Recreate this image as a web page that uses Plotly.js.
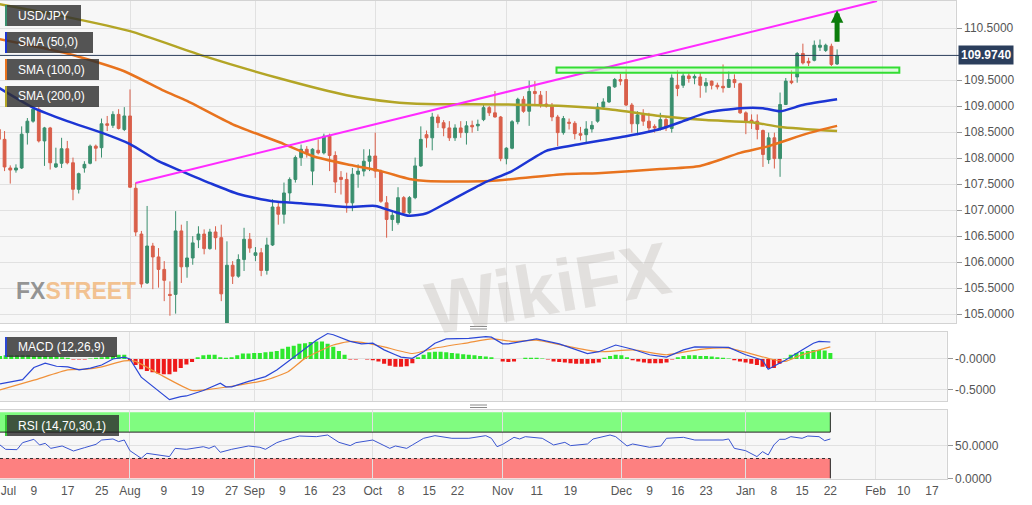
<!DOCTYPE html>
<html><head><meta charset="utf-8">
<script src="https://cdn.plot.ly/plotly-3.0.1.min.js"></script>
<style>html,body{margin:0;padding:0;background:#fff}#chart{width:1032px;height:505px}</style>
</head><body><div id="chart"></div>
<script>
// ---------- DATA ----------
const dates = ['2019-07-01','2019-07-02','2019-07-03','2019-07-04','2019-07-05','2019-07-08','2019-07-09','2019-07-10','2019-07-11','2019-07-12','2019-07-15','2019-07-16','2019-07-17','2019-07-18','2019-07-19','2019-07-22','2019-07-23','2019-07-24','2019-07-25','2019-07-26','2019-07-29','2019-07-30','2019-07-31',
'2019-08-01','2019-08-02','2019-08-05','2019-08-06','2019-08-07','2019-08-08','2019-08-09','2019-08-12','2019-08-13','2019-08-14','2019-08-15','2019-08-16','2019-08-19','2019-08-20','2019-08-21','2019-08-22','2019-08-23','2019-08-26','2019-08-27','2019-08-28','2019-08-29','2019-08-30',
'2019-09-02','2019-09-03','2019-09-04','2019-09-05','2019-09-06','2019-09-09','2019-09-10','2019-09-11','2019-09-12','2019-09-13','2019-09-16','2019-09-17','2019-09-18','2019-09-19','2019-09-20','2019-09-23','2019-09-24','2019-09-25','2019-09-26','2019-09-27','2019-09-30',
'2019-10-01','2019-10-02','2019-10-03','2019-10-04','2019-10-07','2019-10-08','2019-10-09','2019-10-10','2019-10-11','2019-10-14','2019-10-15','2019-10-16','2019-10-17','2019-10-18','2019-10-21','2019-10-22','2019-10-23','2019-10-24','2019-10-25','2019-10-28','2019-10-29','2019-10-30','2019-10-31',
'2019-11-01','2019-11-04','2019-11-05','2019-11-06','2019-11-07','2019-11-08','2019-11-11','2019-11-12','2019-11-13','2019-11-14','2019-11-15','2019-11-18','2019-11-19','2019-11-20','2019-11-21','2019-11-22','2019-11-25','2019-11-26','2019-11-27','2019-11-28','2019-11-29',
'2019-12-02','2019-12-03','2019-12-04','2019-12-05','2019-12-06','2019-12-09','2019-12-10','2019-12-11','2019-12-12','2019-12-13','2019-12-16','2019-12-17','2019-12-18','2019-12-19','2019-12-20','2019-12-23','2019-12-24','2019-12-25','2019-12-26','2019-12-27','2019-12-30','2019-12-31',
'2020-01-01','2020-01-02','2020-01-03','2020-01-06','2020-01-07','2020-01-08','2020-01-09','2020-01-10','2020-01-13','2020-01-14','2020-01-15','2020-01-16','2020-01-17','2020-01-20','2020-01-21','2020-01-22'];

const open = [108.55,108.36,107.81,107.77,107.81,108.49,108.71,108.94,108.33,108.58,107.83,107.90,108.18,107.91,107.40,107.81,107.90,108.23,108.20,108.66,108.63,108.84,108.55,
108.81,107.42,106.54,105.60,106.31,106.10,105.86,105.38,105.38,106.60,105.91,106.08,106.43,106.54,106.26,106.58,106.47,104.83,105.94,105.73,106.05,106.44,
106.13,106.18,105.84,106.33,107.06,106.92,107.33,107.59,108.01,108.17,107.75,108.15,108.10,108.42,108.05,107.63,107.59,107.14,107.69,107.75,107.94,
108.04,107.75,107.14,106.82,106.76,107.24,106.95,107.24,107.85,108.45,108.39,108.79,108.68,108.58,108.39,108.58,108.49,108.63,108.62,108.74,108.97,108.87,108.79,
107.99,108.19,108.70,109.13,108.90,109.28,109.21,109.04,109.00,108.79,108.49,108.69,108.67,108.47,108.45,108.56,108.71,108.98,109.08,109.37,109.51,
109.51,109.02,108.66,108.83,108.71,108.61,108.57,108.74,108.57,109.40,109.40,109.58,109.54,109.56,109.39,109.48,109.40,109.38,109.36,109.51,109.43,108.87,
108.73,108.71,108.53,107.97,108.39,107.99,109.03,109.48,109.56,110.01,109.86,109.88,110.13,110.07,110.15,109.81];
const high = [108.65,108.52,107.86,107.88,108.61,108.77,108.98,108.98,108.60,108.60,108.20,108.39,108.33,108.01,107.72,107.94,108.26,108.26,108.76,108.81,108.90,108.94,108.98,
109.32,107.53,106.60,107.08,106.37,106.27,106.02,105.63,106.98,106.72,106.79,106.50,106.69,106.63,106.64,106.69,106.72,106.40,106.02,106.15,106.66,106.56,
106.29,106.27,106.47,107.21,107.14,107.53,107.63,108.05,108.26,108.23,108.19,108.36,108.47,108.47,108.13,107.75,107.72,107.81,107.88,108.17,108.17,
108.49,107.78,107.27,106.99,107.44,107.27,107.27,108.01,108.61,108.53,108.87,108.84,108.73,108.71,108.65,108.71,108.71,108.72,108.74,109.02,109.00,109.29,108.81,
108.21,108.73,109.16,109.19,109.49,109.48,109.29,109.29,109.06,108.83,108.81,108.76,108.71,108.60,108.71,108.71,109.06,109.15,109.38,109.54,109.62,
109.71,109.06,108.90,108.94,108.87,108.65,108.87,108.79,109.61,109.69,109.63,109.63,109.61,109.64,109.54,109.49,109.45,109.80,109.67,109.61,109.45,108.90,
108.84,108.84,108.55,108.49,108.49,109.26,109.54,109.69,110.04,110.20,109.93,110.26,110.28,110.20,110.20,110.09];
const low = [108.28,107.75,107.51,107.72,107.79,108.26,108.68,108.30,107.85,107.78,107.81,107.81,107.88,107.19,107.32,107.72,107.88,107.94,108.01,108.52,108.58,108.55,108.52,
107.43,106.50,105.51,105.58,105.48,105.51,105.25,104.97,105.01,105.60,105.70,105.95,106.27,106.15,106.24,106.24,105.25,104.81,105.58,105.70,105.83,106.18,
106.02,105.73,105.76,106.31,106.72,106.74,107.17,107.53,107.85,108.01,107.48,108.07,108.07,107.75,107.33,107.30,106.95,106.98,107.43,107.65,107.75,
107.62,107.14,106.47,106.60,106.72,106.92,106.92,107.21,107.83,108.20,108.15,108.58,108.42,108.33,108.33,108.39,108.26,108.49,108.52,108.71,108.81,108.78,107.94,
107.88,108.17,108.65,108.87,108.62,109.00,108.97,108.97,108.71,108.23,108.45,108.55,108.36,108.34,108.28,108.49,108.68,108.97,109.06,109.35,109.40,
109.00,108.49,108.44,108.62,108.49,108.49,108.53,108.52,108.49,109.19,109.35,109.45,109.42,109.16,109.26,109.32,109.32,109.26,109.35,109.35,108.85,108.46,
108.56,108.36,107.83,107.89,107.80,107.64,109.02,109.42,109.45,109.80,109.77,109.86,110.06,110.04,109.77,109.79];
const close = [108.36,107.83,107.77,107.81,108.46,108.71,108.94,108.33,108.58,107.91,107.89,108.18,107.91,107.40,107.70,107.88,108.23,108.19,108.66,108.63,108.84,108.57,108.81,
107.44,106.58,105.58,106.31,106.10,105.86,105.65,105.36,106.60,105.91,106.08,106.37,106.54,106.26,106.58,106.47,105.39,105.94,105.73,106.05,106.44,106.27,
106.18,105.84,106.33,107.06,106.92,107.33,107.59,108.01,108.17,108.10,108.17,108.10,108.42,108.05,107.54,107.59,107.14,107.69,107.75,107.94,108.04,
107.75,107.17,106.82,106.90,107.24,106.95,107.24,107.85,108.36,108.39,108.79,108.68,108.58,108.39,108.58,108.49,108.62,108.60,108.65,108.97,108.87,108.79,107.99,
108.19,108.70,109.13,108.90,109.28,109.24,109.04,109.00,108.79,108.49,108.76,108.67,108.47,108.44,108.56,108.63,108.98,109.08,109.37,109.51,109.48,
109.02,108.66,108.83,108.71,108.58,108.58,108.74,108.58,109.54,109.34,109.58,109.53,109.57,109.40,109.45,109.40,109.37,109.35,109.51,109.45,108.87,108.71,
108.69,108.55,108.07,108.39,107.99,109.03,109.48,109.45,110.01,109.83,109.83,110.17,110.17,110.17,109.80,109.974];

const sma50Dates = ['2019-07-01','2019-07-09','2019-07-17','2019-07-25','2019-08-01','2019-08-08','2019-08-14','2019-08-21','2019-08-28','2019-09-05','2019-09-12','2019-09-24','2019-10-01','2019-10-04','2019-10-09','2019-10-14','2019-10-18','2019-10-28','2019-11-04','2019-11-12','2019-11-20','2019-12-02','2019-12-10','2019-12-16','2019-12-20','2019-12-30','2020-01-03','2020-01-08','2020-01-14','2020-01-22'];
const sma50 = [109.35,108.97,108.71,108.49,108.27,107.94,107.75,107.52,107.31,107.17,107.13,107.06,107.08,106.98,106.89,106.94,107.17,107.52,107.75,108.14,108.27,108.42,108.56,108.71,108.87,108.96,108.96,108.90,109.02,109.13];
const sma100Dates = ['2019-07-01','2019-07-17','2019-07-31','2019-08-09','2019-08-15','2019-08-27','2019-09-09','2019-09-16','2019-09-24','2019-10-02','2019-10-09','2019-10-14','2019-10-29','2019-11-15','2019-11-25','2019-12-10','2019-12-19','2019-12-30','2020-01-06','2020-01-15','2020-01-22'];
const sma100 = [110.29,110.01,109.67,109.29,109.10,108.65,108.27,108.04,107.88,107.75,107.60,107.56,107.56,107.69,107.71,107.79,107.85,108.10,108.23,108.48,108.62];
const sma200Dates = ['2019-07-01','2019-07-17','2019-08-01','2019-08-20','2019-09-06','2019-09-24','2019-10-04','2019-10-14','2019-11-01','2019-11-15','2019-11-27','2019-12-10','2019-12-20','2020-01-01','2020-01-08','2020-01-22'];
const sma200 = [110.96,110.71,110.44,109.96,109.54,109.21,109.08,109.04,109.03,109.00,108.94,108.81,108.73,108.69,108.60,108.52];

const macdDates = ['2019-07-01','2019-07-05','2019-07-09','2019-07-11','2019-07-15','2019-07-17','2019-07-19','2019-07-23','2019-07-25','2019-07-29','2019-07-31','2019-08-01','2019-08-05','2019-08-12','2019-08-14','2019-08-15','2019-08-20','2019-08-23','2019-08-26','2019-08-27','2019-08-30','2019-09-03','2019-09-04','2019-09-06','2019-09-10','2019-09-12','2019-09-17','2019-09-19','2019-09-20','2019-09-25','2019-09-27','2019-10-01','2019-10-03','2019-10-07','2019-10-08','2019-10-10','2019-10-14','2019-10-16','2019-10-18','2019-10-24','2019-10-29','2019-10-30','2019-11-01','2019-11-04','2019-11-07','2019-11-11','2019-11-15','2019-11-22','2019-11-26','2019-11-29','2019-12-04','2019-12-09','2019-12-12','2019-12-17','2019-12-19','2019-12-27','2020-01-01','2020-01-06','2020-01-07','2020-01-10','2020-01-15','2020-01-17','2020-01-20','2020-01-22'];
const macd = [-0.41,-0.34,-0.14,-0.07,-0.12,-0.13,-0.18,-0.15,-0.10,0.00,0.03,0.00,-0.30,-0.67,-0.62,-0.61,-0.52,-0.40,-0.46,-0.46,-0.37,-0.32,-0.29,-0.18,-0.04,0.09,0.31,0.42,0.40,0.29,0.25,0.26,0.15,0.07,0.03,0.01,0.12,0.26,0.33,0.34,0.37,0.36,0.25,0.25,0.30,0.33,0.25,0.09,0.12,0.23,0.16,0.07,0.03,0.15,0.20,0.19,0.07,-0.02,-0.17,-0.02,0.15,0.26,0.29,0.28];
const signalDates = ['2019-07-01','2019-07-09','2019-07-17','2019-07-22','2019-07-25','2019-07-31','2019-08-02','2019-08-08','2019-08-16','2019-08-21','2019-08-27','2019-09-04','2019-09-10','2019-09-13','2019-09-20','2019-09-25','2019-09-30','2019-10-03','2019-10-10','2019-10-16','2019-10-24','2019-10-30','2019-11-05','2019-11-11','2019-11-19','2019-11-26','2019-12-04','2019-12-12','2019-12-20','2019-12-27','2020-01-07','2020-01-10','2020-01-15','2020-01-22'];
const signal = [-0.51,-0.35,-0.18,-0.17,-0.13,-0.03,-0.04,-0.24,-0.52,-0.50,-0.45,-0.35,-0.21,0.01,0.23,0.29,0.26,0.20,0.09,0.18,0.27,0.33,0.29,0.31,0.20,0.12,0.15,0.07,0.16,0.18,0.01,-0.04,0.07,0.20];
const histogram = [0.05,0.06,0.06,0.06,0.06,0.06,0.05,0.05,0.05,0.04,0.04,0.03,0.02,-0.01,-0.01,-0.01,0.01,0.02,0.03,0.04,0.05,0.07,0.07,
-0.03,-0.10,-0.17,-0.20,-0.22,-0.24,-0.25,-0.25,-0.21,-0.15,-0.09,-0.05,
0.03,0.06,0.07,0.07,0.03,0.02,0.03,0.06,0.09,0.09,0.10,0.10,0.11,0.12,0.13,0.17,0.20,0.22,0.25,0.26,0.28,0.29,0.29,0.25,0.20,0.13,0.07,
-0.01,-0.01,0.00,-0.01,-0.02,
-0.04,-0.08,-0.11,-0.13,-0.13,-0.12,-0.07,
0.03,0.07,0.11,0.12,0.12,0.11,0.10,0.09,0.08,0.07,0.06,0.05,0.04,0.03,0.00,
-0.04,-0.05,-0.04,
0.00,0.02,0.02,0.02,0.01,
-0.01,-0.04,-0.05,-0.06,-0.07,-0.08,-0.08,-0.08,-0.07,-0.06,
0.02,0.05,0.07,0.06,0.03,
-0.02,-0.04,-0.06,-0.07,-0.07,-0.07,-0.06,
-0.01,
0.03,0.05,0.06,0.06,0.05,0.05,0.04,0.03,0.02,0.01,
-0.02,-0.04,-0.06,-0.08,-0.10,-0.13,-0.15,-0.15,-0.08,
0.01,0.07,0.10,0.12,0.13,0.15,0.15,0.14,0.10];

const rsiDates = ['2019-07-01','2019-07-02','2019-07-04','2019-07-05','2019-07-09','2019-07-10','2019-07-11','2019-07-12','2019-07-16','2019-07-18','2019-07-22','2019-07-24','2019-07-25','2019-07-29','2019-07-30','2019-07-31','2019-08-01','2019-08-05','2019-08-06','2019-08-12','2019-08-13','2019-08-15','2019-08-20','2019-08-21','2019-08-22','2019-08-23','2019-08-27','2019-08-30','2019-09-03','2019-09-04','2019-09-06','2019-09-09','2019-09-12','2019-09-17','2019-09-19','2019-09-23','2019-09-25','2019-09-26','2019-10-01','2019-10-04','2019-10-07','2019-10-09','2019-10-10','2019-10-14','2019-10-16','2019-10-21','2019-10-24','2019-10-29','2019-10-30','2019-10-31','2019-11-01','2019-11-05','2019-11-06','2019-11-07','2019-11-12','2019-11-14','2019-11-18','2019-11-19','2019-11-22','2019-11-25','2019-11-28','2019-11-29','2019-12-03','2019-12-04','2019-12-09','2019-12-11','2019-12-12','2019-12-17','2019-12-19','2019-12-26','2019-12-27','2019-12-30','2020-01-01','2020-01-03','2020-01-06','2020-01-07','2020-01-08','2020-01-09','2020-01-10','2020-01-13','2020-01-15','2020-01-16','2020-01-20','2020-01-21','2020-01-22'];
const rsi = [50.5,43.9,43.4,54,59.1,50.5,53,45.4,49,41.4,46.5,51.5,58,59.6,55.6,58,41.9,30.3,37.9,32.9,45.4,43.9,47.9,45.4,49,39.4,43.9,49,47,43.9,54,57,64.1,63.1,65.6,54.5,49.5,54,58,45.4,49,45.4,50.5,60.6,64.6,60.6,60.6,64.6,60.6,47.9,51.5,62.1,59.6,63.1,60.6,50.5,54.5,49.5,52,59.6,65.6,63.1,49,52,47,49,60.6,62.1,58,58,59.6,45.4,41.9,32.9,40.4,35.4,50.5,59.1,59.1,63.1,60.6,64.1,63.1,57,59.6];
const rsiLevels = [30, 70, 100];

const priceTicks = [105.0,105.5,106.0,106.5,107.0,107.5,108.0,108.5,109.0,109.5,110.5];
const tickDates = ['2019-07-02 12:00','2019-07-09','2019-07-17','2019-07-25','2019-08-01','2019-08-09','2019-08-19','2019-08-27','2019-09-02','2019-09-09','2019-09-16','2019-09-23','2019-10-01','2019-10-08','2019-10-15','2019-10-22','2019-11-01','2019-11-11','2019-11-19','2019-12-02','2019-12-09','2019-12-16','2019-12-23','2020-01-01','2020-01-08','2020-01-15','2020-01-22','2020-02-03','2020-02-10','2020-02-17'];
const tickLabels = ['Jul','9','17','25','Aug','9','19','27','Sep','9','16','23','Oct','8','15','22','Nov','11','19','Dec','9','16','23','Jan','8','15','22','Feb','10','17'];
const monthStarts = ['2019-08-01','2019-09-02','2019-10-01','2019-11-01','2019-12-02','2020-01-01','2020-02-03'];

const trendDates = ['2019-08-02','2020-01-31'];
const trendValues = [107.52, 111.02];
const zoneDates = ['2019-11-13 19:00','2020-02-05 22:00'];
const zoneValues = [109.64, 109.74];
const arrowDate = '2020-01-22';
const arrowValues = [110.21, 110.84];

const legendLabels = ['USD/JPY','SMA (50,0)','SMA (100,0)','SMA (200,0)'];
const macdLabel = 'MACD (12,26,9)';
const rsiLabel = 'RSI (14,70,30,1)';

// ---------- STYLE ----------
const W = 1032, H = 505;
const FONT = 'Arial, "Liberation Sans", sans-serif';
const C = {up:'#3a8f6e', down:'#d95f4a', s50:'#1c35d4', s100:'#e8731e', s200:'#b3a526',
  macd:'#2b47d6', sig:'#f0913a', histUp:'#2ee82e', histDn:'#ee1a1a', rsi:'#3a55d0',
  grid:'#e1e1e1', border:'#d3d3d3', tick:'#555', navy:'#2b3e5c', trend:'#ff2bff', zone:'#33dd33', arrow:'#0b7d0b'};
const px = x => x / W;
const py = y => 1 - y / H;
const lastDate = dates[dates.length - 1];
const lastClose = close[close.length - 1];
const breaks = [{bounds: ['sat', 'mon']}];
const priceRange = ['2019-07-01 04:48', '2020-02-19 19:12'];
const lowRange = ['2019-07-01 00:00', '2020-02-19 14:24'];

const traces = [
  {type:'candlestick', x:dates, open:open, high:high, low:low, close:close, xaxis:'x', yaxis:'y',
   increasing:{line:{color:C.up,width:1}, fillcolor:C.up}, decreasing:{line:{color:C.down,width:1}, fillcolor:C.down},
   whiskerwidth:0, hoverinfo:'skip', showlegend:false},
  {type:'scatter', mode:'lines', x:sma200Dates, y:sma200, xaxis:'x', yaxis:'y', line:{color:C.s200,width:2.5,shape:'spline',smoothing:0.6}, hoverinfo:'skip'},
  {type:'scatter', mode:'lines', x:sma100Dates, y:sma100, xaxis:'x', yaxis:'y', line:{color:C.s100,width:2.5,shape:'spline',smoothing:0.6}, hoverinfo:'skip'},
  {type:'scatter', mode:'lines', x:sma50Dates, y:sma50, xaxis:'x', yaxis:'y', line:{color:C.s50,width:2.5,shape:'spline',smoothing:0.6}, hoverinfo:'skip'},
  {type:'bar', x:dates, y:histogram, xaxis:'x2', yaxis:'y2', width:0.72*86400000,
   marker:{color:histogram.map(v => v >= 0 ? C.histUp : C.histDn), line:{width:0}}, hoverinfo:'skip'},
  {type:'scatter', mode:'lines', x:signalDates, y:signal, xaxis:'x2', yaxis:'y2', line:{color:C.sig,width:1.2,shape:'spline',smoothing:0.5}, hoverinfo:'skip'},
  {type:'scatter', mode:'lines', x:macdDates, y:macd, xaxis:'x2', yaxis:'y2', line:{color:C.macd,width:1.2}, hoverinfo:'skip'},
  {type:'scatter', mode:'lines', x:rsiDates, y:rsi, xaxis:'x3', yaxis:'y3', line:{color:C.rsi,width:1}, hoverinfo:'skip'}
];

const xCommon = {type:'date', rangebreaks:breaks, showgrid:false, zeroline:false, showline:true, mirror:true,
  linecolor:C.border, linewidth:1, fixedrange:true,
  minor:{tickmode:'array', tickvals:monthStarts, showgrid:true, gridcolor:C.grid, gridwidth:1, ticks:''}};
const yCommon = {side:'right', showline:true, mirror:true, linecolor:C.border, zeroline:false, gridcolor:C.grid,
  ticks:'outside', ticklen:5, tickcolor:'#9a9a9a', tickfont:{family:FONT,size:12,color:C.tick}, fixedrange:true, automargin:false};

const shapes = [];
const boxes = [[5,81,5,26,C.up],[5,93,32,53,C.s50],[5,99,59,80,C.s100],[5,99,86,107,C.s200],[5,117,337,357,C.macd],[5,119,415,436,'#35c835']];
boxes.forEach(b => {
  shapes.push({type:'rect', xref:'paper', yref:'paper', x0:px(b[0]), x1:px(b[1]), y0:py(b[3]), y1:py(b[2]), fillcolor:'rgba(48,48,48,0.82)', line:{width:0}, layer:'above'});
  shapes.push({type:'rect', xref:'paper', yref:'paper', x0:px(b[0]), x1:px(b[0]+2), y0:py(b[3]), y1:py(b[2]), fillcolor:b[4], line:{width:0}, layer:'above'});
});
[326.5, 329, 405, 407.5].forEach(h => shapes.push({type:'line', xref:'paper', yref:'paper', x0:px(470), x1:px(487), y0:py(h), y1:py(h), line:{color:'#8a8a8a', width:1}}));
shapes.push({type:'line', xref:'paper', yref:'y', x0:0, x1:px(960), y0:lastClose, y1:lastClose, line:{color:C.navy, width:1}, layer:'above'});
shapes.push({type:'line', xref:'x', yref:'y', x0:trendDates[0], x1:trendDates[1], y0:trendValues[0], y1:trendValues[1], line:{color:C.trend, width:2}, layer:'above'});
shapes.push({type:'rect', xref:'x', yref:'y', x0:zoneDates[0], x1:zoneDates[1], y0:zoneValues[0], y1:zoneValues[1], fillcolor:'rgba(200,255,200,0.55)', line:{color:C.zone, width:2}, layer:'above'});
shapes.push({type:'rect', xref:'x3', yref:'y3', x0:lowRange[0], x1:lastDate, y0:rsiLevels[1], y1:rsiLevels[2], fillcolor:'#80fc80', line:{width:0}, layer:'below'});
shapes.push({type:'rect', xref:'x3', yref:'y3', x0:lowRange[0], x1:lastDate, y0:0, y1:rsiLevels[0], fillcolor:'#fd8080', line:{width:0}, layer:'below'});
shapes.push({type:'line', xref:'x3', yref:'y3', x0:lowRange[0], x1:lastDate, y0:rsiLevels[1], y1:rsiLevels[1], line:{color:'#222', width:1}});
shapes.push({type:'line', xref:'x3', yref:'y3', x0:lowRange[0], x1:lastDate, y0:rsiLevels[0], y1:rsiLevels[0], line:{color:'#333', width:1, dash:'dot'}});
shapes.push({type:'line', xref:'x3', yref:'y3', x0:lastDate, x1:lastDate, y0:rsiLevels[1], y1:rsiLevels[2], line:{color:'#222', width:1}});
shapes.push({type:'line', xref:'x3', yref:'y3', x0:lastDate, x1:lastDate, y0:0, y1:rsiLevels[0], line:{color:'#222', width:1}});

const annotations = [];
const legendY = [15.5, 42.5, 69.5, 96.5];
legendLabels.forEach((t, i) => annotations.push({xref:'paper', yref:'paper', x:px(16), y:py(legendY[i]), xanchor:'left', yanchor:'middle', text:t, showarrow:false, font:{family:FONT, size:12, color:'#fff'}}));
annotations.push({xref:'paper', yref:'paper', x:px(16), y:py(347), xanchor:'left', yanchor:'middle', text:macdLabel, showarrow:false, font:{family:FONT, size:12, color:'#fff'}});
annotations.push({xref:'paper', yref:'paper', x:px(16), y:py(425.5), xanchor:'left', yanchor:'middle', text:rsiLabel, showarrow:false, font:{family:FONT, size:12, color:'#fff'}});
annotations.push({xref:'paper', yref:'y', x:px(958), y:lastClose, xanchor:'left', yanchor:'middle', text:'<b>' + lastClose.toFixed(4) + '</b>', showarrow:false, bgcolor:C.navy, borderpad:2, font:{family:FONT, size:12, color:'#fff'}});
annotations.push({xref:'x', yref:'y', x:arrowDate, y:arrowValues[1], axref:'x', ayref:'y', ax:arrowDate, ay:arrowValues[0], text:'', showarrow:true, arrowhead:2, arrowsize:0.5, arrowwidth:5, arrowcolor:C.arrow, standoff:0, startstandoff:0});
annotations.push({xref:'paper', yref:'paper', x:px(14), y:py(291), xanchor:'left', yanchor:'middle', showarrow:false,
  text:'<b><span style="color:rgba(115,115,115,0.75)">FX</span><span style="color:rgba(240,170,100,0.7)">STREET</span></b>',
  font:{family:FONT, size:23}});
annotations.push({xref:'paper', yref:'paper', x:px(548), y:py(288), xanchor:'center', yanchor:'middle', showarrow:false, textangle:-10,
  text:'<b>WikiFX</b>', font:{family:FONT, size:74, color:'rgba(180,172,164,0.3)'}});

const layout = {
  width:W, height:H, margin:{l:0, r:0, t:0, b:0}, paper_bgcolor:'#ffffff', plot_bgcolor:'#f7f7f7',
  showlegend:false, hovermode:false, dragmode:false, font:{family:FONT, color:C.tick},
  xaxis:Object.assign({}, xCommon, {domain:[0, px(955.7)], anchor:'y', range:priceRange, showticklabels:false, ticks:'', rangeslider:{visible:false}}),
  yaxis:Object.assign({}, yCommon, {domain:[py(323), py(1)], anchor:'x', range:[104.83, 111.02], tickmode:'array', tickvals:priceTicks, tickformat:'.4f'}),
  xaxis2:Object.assign({}, xCommon, {domain:[0, px(946.7)], anchor:'y2', range:lowRange, showticklabels:false, ticks:''}),
  yaxis2:Object.assign({}, yCommon, {domain:[py(401), py(332)], anchor:'x2', range:[-0.693, 0.445], tickmode:'array', tickvals:[0, -0.5], ticktext:['-0.0000', '-0.5000']}),
  xaxis3:Object.assign({}, xCommon, {domain:[0, px(946.7)], anchor:'y3', range:lowRange, tickmode:'array', tickvals:tickDates, ticktext:tickLabels, ticks:'', tickfont:{family:FONT, size:12, color:C.tick}}),
  yaxis3:Object.assign({}, yCommon, {domain:[py(479.3), py(410)], anchor:'x3', range:[-1.5, 103.5], tickmode:'array', tickvals:[0, 50], ticktext:['0.0000', '50.0000']}),
  shapes:shapes, annotations:annotations
};

Plotly.newPlot('chart', traces, layout, {displayModeBar:false, staticPlot:true});
</script>
</body></html>
